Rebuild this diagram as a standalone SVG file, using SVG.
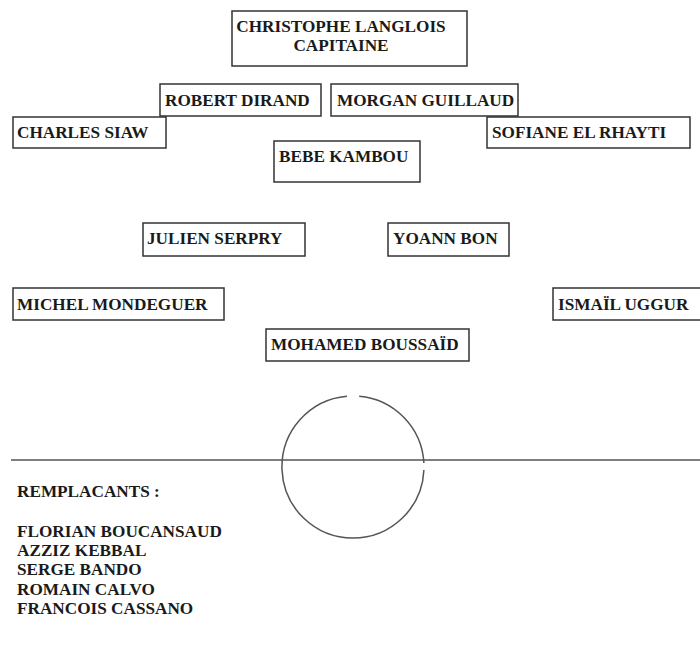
<svg xmlns="http://www.w3.org/2000/svg" width="700" height="647" viewBox="0 0 700 647">
<style>
.box{fill:#fff;stroke:#333;stroke-width:1.5}
.t{font-family:"Liberation Serif","Times New Roman",serif;font-weight:bold;font-size:17.2px;fill:#1a1a1a}
.pitch{fill:none;stroke:#555;stroke-width:1.5}
</style>
<rect width="700" height="647" fill="#fff"/>
<g id="pitch">
<line class="pitch" x1="11" y1="460" x2="700" y2="460" stroke-width="2"/>
<path class="pitch" d="M359.2,396.3 A71,71 0 0 1 423.9,463 M423.9,470 A71,71 0 1 1 347,396.3"/>
</g>
<g id="captain"><rect class="box" x="232" y="11" width="235" height="55"/>
<text class="t" x="341" y="32" text-anchor="middle">CHRISTOPHE LANGLOIS</text>
<text class="t" x="341" y="51" text-anchor="middle">CAPITAINE</text></g>
<g id="dirand"><rect class="box" x="160" y="84" width="161" height="32"/><text class="t" x="165" y="106">ROBERT DIRAND</text></g>
<g id="guillaud"><rect class="box" x="331" y="84" width="187" height="32"/><text class="t" x="337" y="106">MORGAN GUILLAUD</text></g>
<g id="siaw"><rect class="box" x="13" y="117" width="153" height="31"/><text class="t" x="17" y="138">CHARLES SIAW</text></g>
<g id="rhayti"><rect class="box" x="487" y="117" width="203" height="31"/><text class="t" x="492" y="138">SOFIANE EL RHAYTI</text></g>
<g id="kambou"><rect class="box" x="274" y="141" width="146" height="41"/><text class="t" x="279" y="162">BEBE KAMBOU</text></g>
<g id="serpry"><rect class="box" x="143" y="223" width="162" height="33"/><text class="t" x="147" y="244">JULIEN SERPRY</text></g>
<g id="bon"><rect class="box" x="388" y="223" width="121" height="33"/><text class="t" x="393" y="244">YOANN BON</text></g>
<g id="mondeguer"><rect class="box" x="13" y="288" width="211" height="32"/><text class="t" x="17" y="310">MICHEL MONDEGUER</text></g>
<g id="uggur"><rect class="box" x="553" y="288" width="150" height="32"/><text class="t" x="558" y="310">ISMAÏL UGGUR</text></g>
<g id="boussaid"><rect class="box" x="266" y="329" width="203" height="32"/><text class="t" x="271" y="350">MOHAMED BOUSSAÏD</text></g>
<g id="remplacants">
<text class="t" x="17" y="497">REMPLACANTS :</text>
<text class="t" x="17" y="537">FLORIAN BOUCANSAUD</text>
<text class="t" x="17" y="556">AZZIZ KEBBAL</text>
<text class="t" x="17" y="575">SERGE BANDO</text>
<text class="t" x="17" y="595">ROMAIN CALVO</text>
<text class="t" x="17" y="614">FRANCOIS CASSANO</text>
</g>
<g id="connectors"></g>
</svg>
